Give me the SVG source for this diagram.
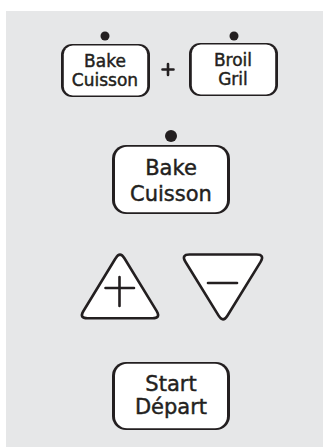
<svg xmlns="http://www.w3.org/2000/svg" width="323" height="447" viewBox="0 0 323 447">
<style>
.bg{fill:#e6e7e8}
.outer{fill:#231f20}
.inner{fill:#ffffff}
.dot{fill:#231f20}
.t{font-family:"DejaVu Sans","Liberation Sans",sans-serif;fill:#231f20;stroke:#231f20;stroke-width:0.45;text-anchor:middle}
.s{font-size:17px}
.b{font-size:21px}
.tri{fill:#ffffff;stroke:#231f20;stroke-width:2.6;stroke-linejoin:round}
.sym{stroke:#231f20;stroke-width:2.6;stroke-linecap:round;fill:none}
</style>
<rect class="bg" x="6" y="11" width="317" height="436"/>
<g id="bake-small">
<circle class="dot" cx="105" cy="36" r="4.5"/>
<rect class="outer" x="61" y="44" width="89" height="53" rx="11"/>
<rect class="inner" x="63.8" y="45.6" width="83.4" height="49.8" rx="9"/>
<text class="t s" x="105" y="67">Bake</text>
<text class="t s" x="105" y="86">Cuisson</text>
</g>
<g id="plus-sign">
<path class="sym" d="M162.5 69.5h11M168 64v11" stroke-width="3" stroke-linecap="butt"/>
</g>
<g id="broil">
<circle class="dot" cx="234" cy="36" r="4.5"/>
<rect class="outer" x="189" y="43" width="89" height="53" rx="11"/>
<rect class="inner" x="191.8" y="44.6" width="83.4" height="49.8" rx="9"/>
<text class="t s" x="233" y="66">Broil</text>
<text class="t s" x="233" y="85">Gril</text>
</g>
<g id="bake-large">
<circle class="dot" cx="171" cy="136" r="6"/>
<rect class="outer" x="112" y="145" width="118" height="69" rx="14"/>
<rect class="inner" x="115" y="146.8" width="112" height="65.4" rx="12"/>
<text class="t b" x="171" y="175">Bake</text>
<text class="t b" x="171" y="201">Cuisson</text>
</g>
<g id="up">
<path class="tri" d="M115.6 258.3L83.3 311.2Q79 318.3 87.5 318.3L152.5 318.3Q161 318.3 156.7 311.2L124.4 258.3Q120 251 115.6 258.3Z"/>
<path class="sym" d="M105.5 288h28.5M119.5 277v29"/>
</g>
<g id="down">
<path class="tri" d="M189.5 254.5L256.5 254.5Q265 254.5 260.6 261.8L227.4 315.7Q223 323 218.6 315.7L185.4 261.8Q181 254.5 189.5 254.5Z"/>
<path class="sym" d="M208 283h29"/>
</g>
<g id="start">
<rect class="outer" x="112" y="362" width="118" height="68" rx="14"/>
<rect class="inner" x="115" y="363.8" width="112" height="64.4" rx="12"/>
<text class="t b" x="171" y="391">Start</text>
<text class="t b" x="171" y="413.5">Départ</text>
</g>
<g id="connectors"/>
</svg>
